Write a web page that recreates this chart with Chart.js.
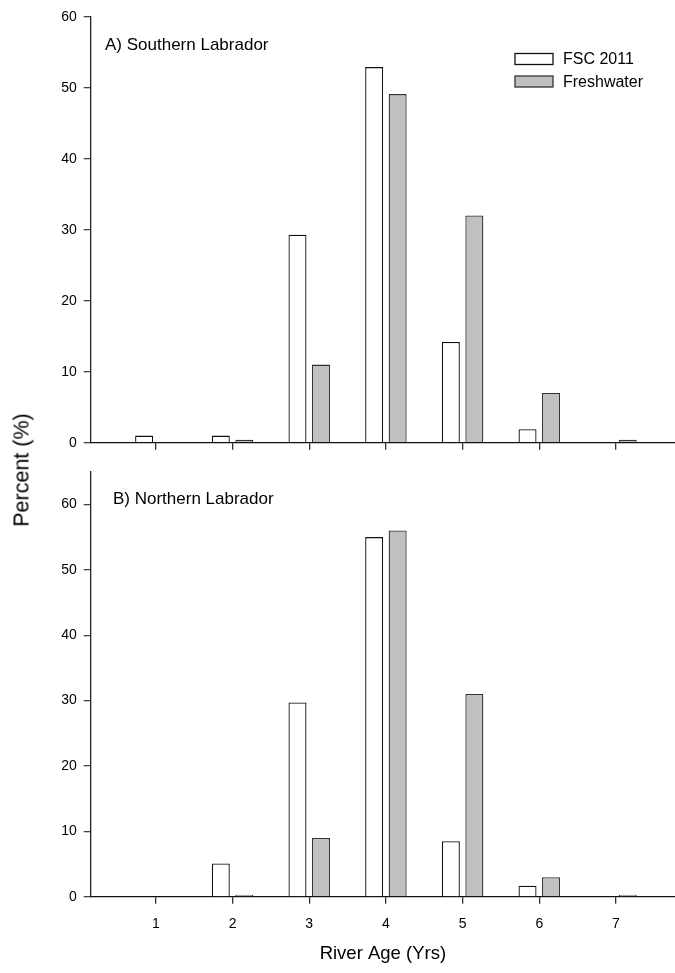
<!DOCTYPE html>
<html>
<head>
<meta charset="utf-8">
<script src="https://cdn.jsdelivr.net/npm/chart.js@4.4.0/dist/chart.umd.min.js"></script>
<style>
  html, body { margin: 0; padding: 0; background: #fff; overflow: hidden; }
  #wrap { position: relative; width: 675px; height: 973px; }
  #topBox { position: absolute; left: 0; top: 0; width: 675px; height: 460px; }
  #bottomBox { position: absolute; left: 0; top: 460px; width: 675px; height: 513px; }
  #yTitle {
    position: absolute; left: 22px; top: 470px;
    transform: translate(-50%, -50%) rotate(-90deg);
    font: 21.5px 'Liberation Sans', Arial, sans-serif; color: #000; white-space: nowrap;
  }
</style>
</head>
<body>
<div id="wrap">
  <div id="topBox"><canvas id="southChart" width="675" height="460"></canvas></div>
  <div id="bottomBox"><canvas id="northChart" width="675" height="513"></canvas></div>
  <div id="yTitle">Percent (%)</div>
</div>
<script>
// river ages on the x axis
const ages = [1, 2, 3, 4, 5, 6, 7];
const seriesNames = ["FSC 2011", "Freshwater"];

// A) Southern Labrador, percent
const southFsc = [1.0, 1.0, 29.3, 52.9, 14.2, 1.9, 0];
const southFresh = [0, 0.4, 11.0, 49.1, 32.0, 7.0, 0.4];

// B) Northern Labrador, percent
const northFsc = [0, 5.1, 29.7, 55.0, 8.5, 1.7, 0];
const northFresh = [0, 0.3, 9.0, 56.0, 31.0, 3.0, 0.3];

const yTicks = [0, 10, 20, 30, 40, 50, 60];

Chart.defaults.font.family = "'Liberation Sans', Arial, sans-serif";
Chart.defaults.color = "#000";

// panel caption inside the plot area
const panelLabel = {
    id: "panelLabel",
    afterDraw(chart, args, opts) {
        const ctx = chart.ctx;
        ctx.save();
        ctx.font = "17px 'Liberation Sans', Arial, sans-serif";
        ctx.fillStyle = "#000";
        ctx.textBaseline = "middle";
        ctx.fillText(opts.text, opts.x, opts.y);
        ctx.restore();
    }
};

// stacked legend drawn from the datasets
const boxLegend = {
    id: "boxLegend",
    afterDraw(chart, args, opts) {
        if (!opts.show) return;
        const ctx = chart.ctx;
        ctx.save();
        ctx.font = "16px 'Liberation Sans', Arial, sans-serif";
        ctx.textBaseline = "middle";
        chart.data.datasets.forEach((ds, i) => {
            const y = opts.y + i * opts.gap;
            ctx.fillStyle = ds.backgroundColor;
            ctx.fillRect(opts.x, y - 5.5, 38, 11);
            ctx.strokeStyle = ds.borderColor;
            ctx.lineWidth = 1.3;
            ctx.strokeRect(opts.x, y - 5.5, 38, 11);
            ctx.fillStyle = "#000";
            ctx.fillText(ds.label, opts.x + 48, y + 1);
        });
        ctx.restore();
    }
};

function makeChart(id, fsc, fresh, yMax, cfg) {
    const ctx = document.getElementById(id).getContext("2d");
    return new Chart(ctx, {
        type: "bar",
        data: {
            datasets: [{
                label: seriesNames[0],
                data: ages.map((a, i) => ({ x: a, y: fsc[i] })),
                backgroundColor: "#ffffff",
                borderColor: "#111111",
                borderWidth: 1.3
            }, {
                label: seriesNames[1],
                data: ages.map((a, i) => ({ x: a, y: fresh[i] })),
                backgroundColor: "#c0c0c0",
                borderColor: "#333333",
                borderWidth: 1.3
            }]
        },
        plugins: [panelLabel, boxLegend],
        options: {
            responsive: false,
            animation: false,
            categoryPercentage: 0.613,
            barPercentage: 0.766,
            layout: { padding: { top: cfg.padTop, right: 0, bottom: 0, left: 0 } },
            scales: {
                x: {
                    type: "linear",
                    min: 0.15,
                    max: 7.77,
                    offset: false,
                    afterBuildTicks: s => { s.ticks = ages.map(v => ({ value: v })); },
                    afterFit: s => { s.height = cfg.xHeight; s.paddingLeft = 0; s.paddingRight = 0; },
                    border: { color: "#111", width: 1.3 },
                    grid: { offset: false, drawOnChartArea: false, tickLength: 7, tickColor: "#333", lineWidth: 1.3 },
                    ticks: { display: cfg.showX, padding: 12, font: { size: 14 }, color: "#000" },
                    title: {
                        display: cfg.showX,
                        text: "River Age (Yrs)",
                        font: { size: 18.5 },
                        color: "#000",
                        padding: { top: 0, bottom: 8 }
                    }
                },
                y: {
                    min: 0,
                    max: yMax,
                    afterBuildTicks: s => { s.ticks = yTicks.map(v => ({ value: v })); },
                    afterFit: s => { s.width = 90.7; s.paddingTop = 0; s.paddingBottom = 0; },
                    border: { color: "#222", width: 1.3 },
                    grid: { drawOnChartArea: false, tickLength: 7, tickColor: "#444", lineWidth: 1.3 },
                    ticks: { padding: 7, font: { size: 14 }, color: "#000" }
                }
            },
            plugins: {
                legend: { display: false },
                tooltip: { enabled: false },
                panelLabel: { text: cfg.label, x: cfg.labelX, y: cfg.labelY },
                boxLegend: { show: cfg.legend, x: 515, y: 59, gap: 22.5 }
            }
        }
    });
}

document.addEventListener("DOMContentLoaded", () => {
    makeChart("southChart", southFsc, southFresh, 60, {
        padTop: 16.7, xHeight: 17.3, showX: false, legend: true,
        label: "A) Southern Labrador", labelX: 105, labelY: 45
    });
    makeChart("northChart", northFsc, northFresh, 65, {
        padTop: 11.7, xHeight: 76.2, showX: true, legend: false,
        label: "B) Northern Labrador", labelX: 113, labelY: 39
    });
});
</script>
</body>
</html>
